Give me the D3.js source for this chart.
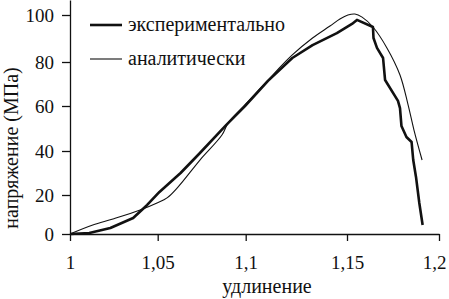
<!DOCTYPE html>
<html>
<head>
<meta charset="utf-8">
<script src="https://cdn.jsdelivr.net/npm/d3@7"></script>
<style>
  body { margin: 0; background: #fff; }
</style>
</head>
<body>
<div id="chart"></div>
<script>
// elongation (x) / stress MPa (y)
const expX = [1.000, 1.011, 1.023, 1.036, 1.044, 1.051, 1.063, 1.074, 1.089, 1.0996, 1.111, 1.123, 1.133, 1.145, 1.1527, 1.1554, 1.1641, 1.1644, 1.1663, 1.1696, 1.1707, 1.1777, 1.1788, 1.1796, 1.1823, 1.1851, 1.186, 1.1875, 1.1893, 1.1911]
const expY = [0, 0.5, 3.1, 8.2, 14.9, 21.4, 30, 39.1, 51.6, 60, 71.4, 81.7, 87.2, 92.3, 96.2, 97.9, 94.9, 90.2, 86, 81.7, 71.8, 62.3, 59.1, 51.1, 46.2, 44, 35.9, 28.2, 15.9, 4.6]

const anaX = [1.000, 1.013, 1.0245, 1.040, 1.0496, 1.0553, 1.0615, 1.074, 1.0865, 1.090, 1.0996, 1.111, 1.123, 1.133, 1.1416, 1.1465, 1.1505, 1.1543, 1.1582, 1.1641, 1.1717, 1.1788, 1.1832, 1.1864, 1.1908]
const anaY = [0, 4.6, 7.7, 12.3, 15.9, 18.5, 23.6, 35.9, 47.1, 52.4, 60.5, 71.8, 83, 90.2, 95.3, 98.3, 100, 100.4, 99.1, 94.9, 86, 74.1, 60.5, 49.3, 35.9]

const xTicks = [1, 1.05, 1.1, 1.15, 1.2]
const xTickLabels = ["1", "1,05", "1,1", "1,15", "1,2"]
const yTicks = [0, 20, 40, 60, 80, 100]
const seriesNames = ["экспериментально", "аналитически"]
const xTitle = "удлинение"
const yTitle = "напряжение (МПа)"

const width = 449
const height = 299
const fontFamily = "'Liberation Serif', 'DejaVu Serif', 'Times New Roman', serif"

const svg = d3.select("#chart")
    .append("svg")
    .attr("width", width)
    .attr("height", height)

// the scanned axes are not evenly spaced, so the scales follow the printed ticks
const x = d3.scaleLinear()
    .domain([1, 1.05, 1.1, 1.15, 1.2])
    .range([70, 157.7, 245.7, 347, 439])

const y = d3.scaleLinear()
    .domain([0, 20, 40, 60, 80, 100, 106])
    .range([234, 195, 151, 106, 62, 15, 0])

const layer_x_axis = svg.append("g")
const layer_y_axis = svg.append("g")
const layer_lines = svg.append("g")
const layer_legend = svg.append("g")

const styleText = (sel, size) => sel
    .style("font-family", fontFamily)
    .style("font-size", size)
    .attr("fill", "#111")

layer_x_axis
    .attr("transform", `translate(0,${y(0)})`)
    .call(d3.axisBottom(x)
        .tickValues(xTicks)
        .tickSize(7)
        .tickSizeOuter(0)
        .tickFormat((d, i) => xTickLabels[i]))
    .call(g => g.selectAll("text").attr("y", 22).call(styleText, "19px"))
    .call(g => g.selectAll("line, path").attr("stroke", "#111").attr("stroke-width", 1.3))

// keep the last label inside the picture
layer_x_axis.selectAll(".tick:last-of-type text").attr("dx", -5)

layer_y_axis
    .attr("transform", `translate(${x(1)},0)`)
    .call(d3.axisLeft(y)
        .tickValues(yTicks)
        .tickSize(8)
        .tickSizeOuter(0))
    .call(g => g.selectAll("text").attr("x", -16).call(styleText, "19px"))
    .call(g => g.selectAll("line, path").attr("stroke", "#111").attr("stroke-width", 1.3))

svg.append("text")
    .attr("x", 267)
    .attr("y", 293)
    .attr("text-anchor", "middle")
    .call(styleText, "20px")
    .text(xTitle)

svg.append("text")
    .attr("transform", `translate(18,148) rotate(-90)`)
    .attr("text-anchor", "middle")
    .call(styleText, "20px")
    .text(yTitle)

const expData = expX.map((v, i) => [v, expY[i]])
const anaData = anaX.map((v, i) => [v, anaY[i]])

const lineExp = d3.line()
    .x(d => x(d[0]))
    .y(d => y(d[1]))

const lineAna = d3.line()
    .curve(d3.curveCatmullRom)
    .x(d => x(d[0]))
    .y(d => y(d[1]))

layer_lines.append("path")
    .datum(anaData)
    .attr("fill", "none")
    .attr("stroke", "#111")
    .attr("stroke-width", 1.1)
    .attr("d", lineAna)

layer_lines.append("path")
    .datum(expData)
    .attr("fill", "none")
    .attr("stroke", "#111")
    .attr("stroke-width", 2.6)
    .attr("stroke-linejoin", "round")
    .attr("d", lineExp)

// legend
const legendRows = [
    {name: seriesNames[0], w: 2.6, y: 25},
    {name: seriesNames[1], w: 1.1, y: 59}
]
const legendItem = layer_legend.selectAll("g")
    .data(legendRows)
    .enter().append("g")
    .attr("transform", d => `translate(90,${d.y})`)

legendItem.append("line")
    .attr("x1", 0)
    .attr("x2", 32)
    .attr("stroke", "#111")
    .attr("stroke-width", d => d.w)

legendItem.append("text")
    .attr("x", 38)
    .attr("dy", "0.32em")
    .call(styleText, "20px")
    .text(d => d.name)
</script>
</body>
</html>
